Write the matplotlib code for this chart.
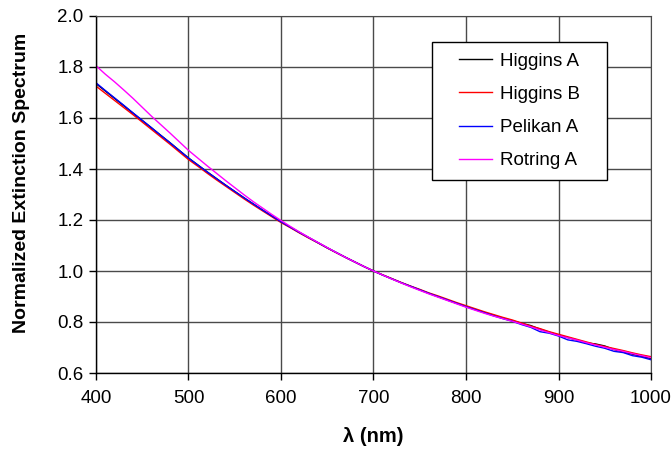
import numpy as np
import matplotlib
matplotlib.use("Agg")
import matplotlib.pyplot as plt
from matplotlib.patches import Rectangle

plt.rcParams['font.family'] = ['Liberation Sans', 'DejaVu Sans']

# ---------------------------------------------------------------- data
wavelength = list(range(400, 1001, 10))

higgins_a = [1.735, 1.706, 1.677, 1.648, 1.619, 1.590, 1.561, 1.532, 1.503, 1.473,
             1.443, 1.416, 1.389, 1.363, 1.337, 1.312, 1.287, 1.263, 1.239, 1.216,
             1.193, 1.172, 1.151, 1.131, 1.111, 1.091, 1.072, 1.053, 1.035, 1.017,
             1.000, 0.984, 0.969, 0.954, 0.940, 0.926, 0.912, 0.899, 0.886, 0.873,
             0.861, 0.849, 0.837, 0.826, 0.815, 0.805, 0.795, 0.786, 0.772, 0.760,
             0.748, 0.739, 0.729, 0.718, 0.714, 0.706, 0.692, 0.682, 0.674, 0.665,
             0.657]

higgins_b = [1.725, 1.697, 1.669, 1.641, 1.613, 1.584, 1.555, 1.526, 1.497, 1.467,
             1.437, 1.411, 1.384, 1.358, 1.333, 1.308, 1.283, 1.259, 1.236, 1.213,
             1.190, 1.170, 1.149, 1.129, 1.110, 1.090, 1.071, 1.053, 1.035, 1.017,
             1.000, 0.985, 0.970, 0.955, 0.941, 0.928, 0.914, 0.902, 0.889, 0.876,
             0.864, 0.852, 0.840, 0.829, 0.818, 0.808, 0.796, 0.784, 0.774, 0.762,
             0.752, 0.742, 0.732, 0.722, 0.712, 0.704, 0.696, 0.688, 0.679, 0.671,
             0.664]

pelikan_a = [1.738, 1.708, 1.679, 1.650, 1.620, 1.591, 1.562, 1.532, 1.503, 1.473,
             1.443, 1.416, 1.389, 1.363, 1.337, 1.312, 1.287, 1.263, 1.239, 1.216,
             1.193, 1.172, 1.151, 1.131, 1.111, 1.091, 1.072, 1.053, 1.035, 1.017,
             1.000, 0.984, 0.969, 0.954, 0.940, 0.926, 0.912, 0.899, 0.886, 0.873,
             0.860, 0.848, 0.836, 0.824, 0.813, 0.803, 0.790, 0.779, 0.762, 0.756,
             0.745, 0.730, 0.724, 0.715, 0.705, 0.697, 0.685, 0.680, 0.668, 0.662,
             0.652]

rotring_a = [1.805, 1.772, 1.742, 1.710, 1.677, 1.642, 1.607, 1.574, 1.541, 1.507,
             1.473, 1.443, 1.413, 1.384, 1.355, 1.327, 1.299, 1.272, 1.247, 1.222,
             1.198, 1.175, 1.153, 1.132, 1.112, 1.092, 1.072, 1.053, 1.035, 1.017,
             1.000, 0.984, 0.968, 0.953, 0.938, 0.924, 0.910, 0.897, 0.884, 0.871,
             0.858, 0.846, 0.834, 0.823, 0.813, 0.803, 0.792, 0.781, 0.769, 0.758,
             0.747, 0.738, 0.729, 0.719, 0.710, 0.701, 0.692, 0.685, 0.676, 0.668,
             0.660]

series = [("Higgins A", higgins_a, "#000000"),
          ("Higgins B", higgins_b, "#ff0000"),
          ("Pelikan A", pelikan_a, "#0000ff"),
          ("Rotring A", rotring_a, "#ff00ff")]

x_ticks = [400, 500, 600, 700, 800, 900, 1000]
y_ticks = [0.6, 0.8, 1.0, 1.2, 1.4, 1.6, 1.8, 2.0]

# ---------------------------------------------------------------- plot
W, H = 672, 451
fig = plt.figure(figsize=(W / 100, H / 100), dpi=100)
ax = fig.add_axes([96 / W, 78 / H, 555 / W, 357 / H])

for name, vals, col in series:
    ax.plot(wavelength, vals, color=col, linewidth=1.0, label=name)

ax.set_xlim(400, 1000)
ax.set_ylim(0.6, 2.0)
ax.set_xticks(x_ticks)
ax.set_yticks(y_ticks)
ax.set_yticklabels([f"{v:.1f}" for v in y_ticks])
ax.grid(True, color='#4a4a4a', linewidth=1.0)
ax.set_axisbelow(True)

for side in ['top', 'right']:
    ax.spines[side].set_color('#4a4a4a')
for side in ['left', 'bottom']:
    ax.spines[side].set_color('black')
    ax.spines[side].set_linewidth(1.0)

ax.tick_params(axis='both', direction='out', length=5, width=1,
               labelsize=13.5, colors='black')
ax.tick_params(axis='x', pad=7)
ax.tick_params(axis='y', pad=4)

# label centres placed at the reference pixel positions
ax.set_xlabel("λ (nm)", fontsize=14.5, fontweight='bold')
ax.set_ylabel("Normalized Extinction Spectrum", fontsize=14, fontweight='bold')
ax.xaxis.set_label_coords(0.5, -(437 - 373) / 357)
ax.xaxis.label.set_va('center')
ax.yaxis.set_label_coords(-(96 - 22) / 555, (373 - 183) / 357)
ax.yaxis.label.set_va('center')

# legend: frame drawn separately so the side padding can be wider than top/bottom
box_x0, box_y0, box_x1, box_y1 = 432, 42, 607, 180
ax.add_patch(Rectangle((box_x0 / W, 1 - box_y1 / H),
                       (box_x1 - box_x0) / W, (box_y1 - box_y0) / H,
                       transform=fig.transFigure, facecolor='white',
                       edgecolor='black', linewidth=1.0, zorder=5,
                       clip_on=False))
leg = ax.legend(loc='center', bbox_to_anchor=((box_x0 + box_x1) / 2 / W,
                                              1 - (box_y0 + box_y1) / 2 / H),
                bbox_transform=fig.transFigure, fontsize=13.5, frameon=False,
                handlelength=1.75, handletextpad=0.4, labelspacing=0.85,
                borderpad=0, borderaxespad=0)
leg.set_zorder(6)

fig.savefig("out.png", dpi=100)
